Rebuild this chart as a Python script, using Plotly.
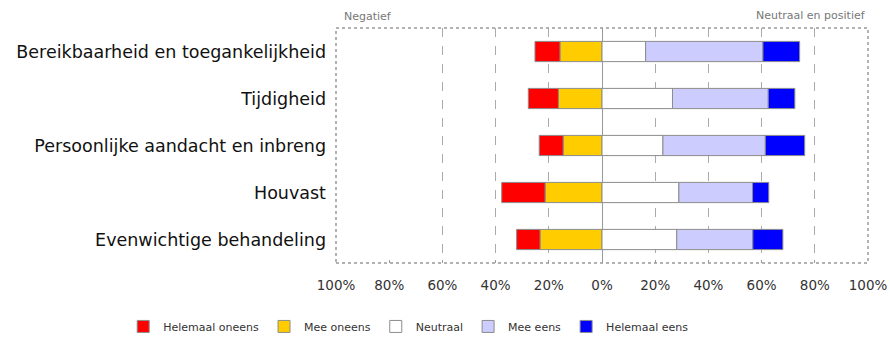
import plotly.graph_objects as go

categories = ["Bereikbaarheid en toegankelijkheid", "Tijdigheid",
              "Persoonlijke aandacht en inbreng", "Houvast", "Evenwichtige behandeling"]
helemaal_oneens = [9.4, 11.3, 9.0, 16.3, 8.8]
mee_oneens = [15.8, 16.4, 14.6, 21.4, 23.3]
neutraal = [16.4, 26.5, 22.9, 28.9, 28.1]
mee_eens = [44.1, 36.0, 38.5, 27.7, 28.6]
helemaal_eens = [13.8, 10.0, 14.8, 6.1, 11.3]

tick_vals = [-100, -80, -60, -40, -20, 0, 20, 40, 60, 80, 100]
tick_text = ["100%", "80%", "60%", "40%", "20%", "0%", "20%", "40%", "60%", "80%", "100%"]
grid_vals = [-60, -40, -20, 20, 40, 60, 80]

edge = dict(color="#8c8c8c", width=1)
fig = go.Figure()
# invisible helper trace so the grid axis (x2) is rendered
fig.add_scatter(x=[-100, 100], y=[categories[0], categories[0]], xaxis="x2", mode="markers",
                marker=dict(opacity=0), showlegend=False, hoverinfo="skip")
fig.add_bar(y=categories, x=[-v for v in mee_oneens], name="Mee oneens", orientation="h",
            marker=dict(color="#FFCC00", line=edge), legendrank=2)
fig.add_bar(y=categories, x=[-v for v in helemaal_oneens], name="Helemaal oneens", orientation="h",
            marker=dict(color="#FF0000", line=edge), legendrank=1)
fig.add_bar(y=categories, x=neutraal, name="Neutraal", orientation="h",
            marker=dict(color="#FFFFFF", line=edge), legendrank=3)
fig.add_bar(y=categories, x=mee_eens, name="Mee eens", orientation="h",
            marker=dict(color="#CCCCFF", line=edge), legendrank=4)
fig.add_bar(y=categories, x=helemaal_eens, name="Helemaal eens", orientation="h",
            marker=dict(color="#0000FF", line=edge), legendrank=5)

fig.update_layout(
    width=890, height=341,
    margin=dict(l=336, r=22, t=28, b=78, autoexpand=False),
    barmode="relative", bargap=0.57,
    plot_bgcolor="white", paper_bgcolor="white",
    font=dict(family="DejaVu Sans", color="#222"),
    showlegend=True,
    legend=dict(orientation="h", x=-0.40, xanchor="left", y=-0.27, yanchor="middle",
                font=dict(size=11, color="#333"), itemwidth=30, traceorder="normal"),
    xaxis=dict(range=[-100, 100], tickvals=tick_vals, ticktext=tick_text, showgrid=False,
               zeroline=True, zerolinecolor="#999", zerolinewidth=1, automargin=False,
               ticks="inside", ticklen=3, tickcolor="#999",
               tickfont=dict(size=13.5, color="#333"), ticklabelstandoff=12),
    xaxis2=dict(range=[-100, 100], overlaying="x", tickvals=grid_vals, showticklabels=False,
                showgrid=True, gridcolor="#aaa", griddash="dash", gridwidth=1, zeroline=False,
                automargin=False),
    yaxis=dict(autorange="reversed", showgrid=False, ticks="", ticklabelstandoff=9,
               automargin=False, tickfont=dict(size=17.5, color="#111")),
    shapes=[dict(type="rect", xref="paper", yref="paper", x0=0, x1=1, y0=0, y1=1,
                 line=dict(color="#999", width=1.5, dash="dot"), layer="above")],
    annotations=[
        dict(text="Negatief", xref="paper", yref="paper", x=0.012, y=1.0, yshift=12,
             xanchor="left", yanchor="middle", showarrow=False, font=dict(size=11, color="#777")),
        dict(text="Neutraal en positief", xref="paper", yref="paper", x=1.0, y=1.0, yshift=13,
             xanchor="right", yanchor="middle", showarrow=False, font=dict(size=11, color="#777")),
    ],
)
fig.write_html("out.html")
